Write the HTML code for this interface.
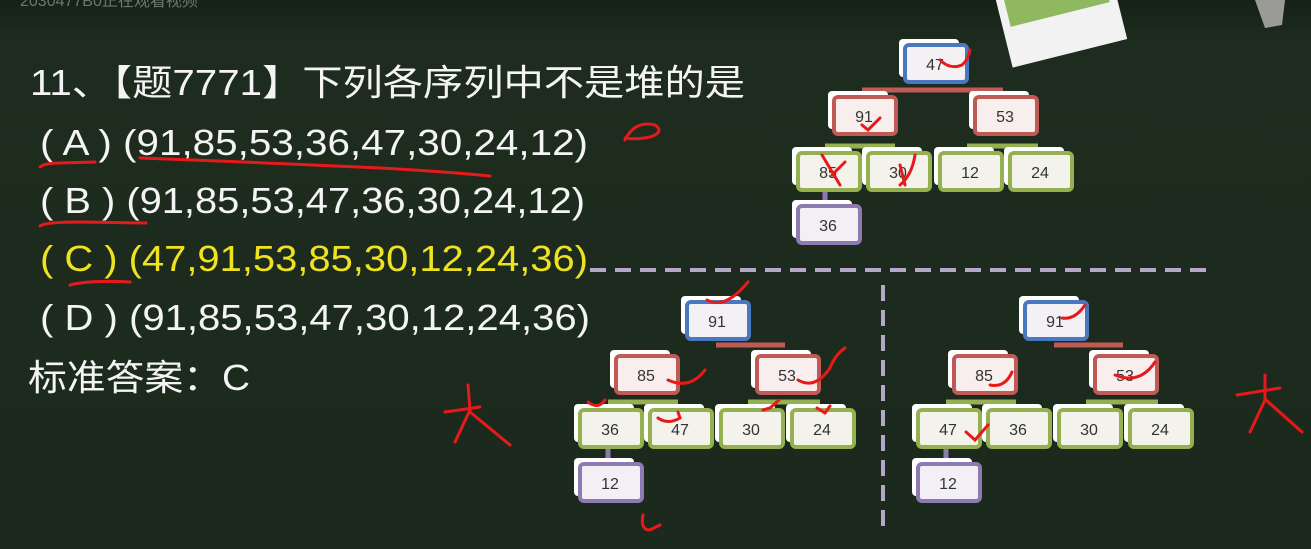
<!DOCTYPE html>
<html><head><meta charset="utf-8"><style>
html,body{margin:0;padding:0;background:#1e2c1f;}
svg{display:block}
text{font-family:"Liberation Sans","Noto Sans CJK SC",sans-serif;}
</style></head><body>
<svg width="1311" height="549" viewBox="0 0 1311 549" xmlns="http://www.w3.org/2000/svg">
<defs>
<linearGradient id="bg" x1="0" y1="0" x2="0" y2="1"><stop offset="0" stop-color="#152116"/><stop offset="0.08" stop-color="#1e2c1f"/><stop offset="1" stop-color="#1c2a1d"/></linearGradient>
</defs>
<rect width="1311" height="549" fill="url(#bg)"/>
<text x="20" y="6" font-size="16" fill="#6d776d">2030477B0正在观看视频</text>
<!-- polaroid -->
<g transform="rotate(-14 1060 30)">
<rect x="1005" y="-40" width="118" height="95" fill="#f2f2f2"/>
<rect x="1013" y="-40" width="102" height="55" fill="#8fb860"/>
</g>
<path d="M1255 0 L1285 0 L1282 25 L1265 28 Z" fill="#9a9a96"/>
<!-- text -->
<g font-size="36" fill="#f4f4f4">
<text x="30" y="95" textLength="715" lengthAdjust="spacingAndGlyphs">11、【题7771】下列各序列中不是堆的是</text>
<text x="40" y="155" textLength="548" lengthAdjust="spacingAndGlyphs">( A ) (91,85,53,36,47,30,24,12)</text>
<text x="40" y="213" textLength="545" lengthAdjust="spacingAndGlyphs">( B ) (91,85,53,47,36,30,24,12)</text>
<text x="40" y="271" textLength="548" lengthAdjust="spacingAndGlyphs" fill="#efe21e">( C ) (47,91,53,85,30,12,24,36)</text>
<text x="40" y="330" textLength="550" lengthAdjust="spacingAndGlyphs">( D ) (91,85,53,47,30,12,24,36)</text>
<text x="28" y="390" textLength="222" lengthAdjust="spacingAndGlyphs">标准答案：C</text>
</g>
<!-- dashed lines -->
<line x1="590" y1="270" x2="1212" y2="270" stroke="#b4a8c8" stroke-width="4" stroke-dasharray="16 9"/>
<line x1="883" y1="285" x2="883" y2="530" stroke="#b4a8c8" stroke-width="4" stroke-dasharray="16 9"/>

<g stroke-width="5" fill="none">
<path d="M862 90 H1003" stroke="#c05a55"/>
<path d="M825 146 H895 M967 146 H1038" stroke="#94b050"/>
<path d="M825 190 V205" stroke="#8c7ab0"/>
<path d="M716 345 H785" stroke="#c05a55"/>
<path d="M608 402 H678 M748 402 H820" stroke="#94b050"/>
<path d="M608 448 V460" stroke="#8c7ab0"/>
<path d="M1054 345 H1123" stroke="#c05a55"/>
<path d="M946 402 H1016 M1086 402 H1158" stroke="#94b050"/>
<path d="M946 448 V460" stroke="#8c7ab0"/>
</g>

<g text-anchor="middle" font-size="16" fill="#333">
<!-- Tree 1 -->
<rect x="899" y="39" width="60" height="38" rx="4" fill="#fff"/><rect x="905" y="45" width="62" height="37" rx="4" fill="#f4f1f4" stroke="#4a78c0" stroke-width="4"/><text x="935" y="70">47</text>
<rect x="828" y="91" width="60" height="38" rx="4" fill="#fff"/><rect x="834" y="97" width="62" height="37" rx="4" fill="#f8eeee" stroke="#c05a55" stroke-width="4"/><text x="864" y="122">91</text>
<rect x="969" y="91" width="60" height="38" rx="4" fill="#fff"/><rect x="975" y="97" width="62" height="37" rx="4" fill="#f8eeee" stroke="#c05a55" stroke-width="4"/><text x="1005" y="122">53</text>
<rect x="792" y="147" width="60" height="38" rx="4" fill="#fff"/><rect x="798" y="153" width="62" height="37" rx="4" fill="#f3f3ec" stroke="#94b050" stroke-width="4"/><text x="828" y="178">85</text>
<rect x="862" y="147" width="60" height="38" rx="4" fill="#fff"/><rect x="868" y="153" width="62" height="37" rx="4" fill="#f3f3ec" stroke="#94b050" stroke-width="4"/><text x="898" y="178">30</text>
<rect x="934" y="147" width="60" height="38" rx="4" fill="#fff"/><rect x="940" y="153" width="62" height="37" rx="4" fill="#f3f3ec" stroke="#94b050" stroke-width="4"/><text x="970" y="178">12</text>
<rect x="1004" y="147" width="60" height="38" rx="4" fill="#fff"/><rect x="1010" y="153" width="62" height="37" rx="4" fill="#f3f3ec" stroke="#94b050" stroke-width="4"/><text x="1040" y="178">24</text>
<rect x="792" y="200" width="60" height="38" rx="4" fill="#fff"/><rect x="798" y="206" width="62" height="37" rx="4" fill="#f3f0f5" stroke="#8c7ab0" stroke-width="4"/><text x="828" y="231">36</text>
<!-- Tree 2 -->
<rect x="681" y="296" width="60" height="38" rx="4" fill="#fff"/><rect x="687" y="302" width="62" height="37" rx="4" fill="#f4f1f4" stroke="#4a78c0" stroke-width="4"/><text x="717" y="327">91</text>
<rect x="610" y="350" width="60" height="38" rx="4" fill="#fff"/><rect x="616" y="356" width="62" height="37" rx="4" fill="#f8eeee" stroke="#c05a55" stroke-width="4"/><text x="646" y="381">85</text>
<rect x="751" y="350" width="60" height="38" rx="4" fill="#fff"/><rect x="757" y="356" width="62" height="37" rx="4" fill="#f8eeee" stroke="#c05a55" stroke-width="4"/><text x="787" y="381">53</text>
<rect x="574" y="404" width="60" height="38" rx="4" fill="#fff"/><rect x="580" y="410" width="62" height="37" rx="4" fill="#f3f3ec" stroke="#94b050" stroke-width="4"/><text x="610" y="435">36</text>
<rect x="644" y="404" width="60" height="38" rx="4" fill="#fff"/><rect x="650" y="410" width="62" height="37" rx="4" fill="#f3f3ec" stroke="#94b050" stroke-width="4"/><text x="680" y="435">47</text>
<rect x="715" y="404" width="60" height="38" rx="4" fill="#fff"/><rect x="721" y="410" width="62" height="37" rx="4" fill="#f3f3ec" stroke="#94b050" stroke-width="4"/><text x="751" y="435">30</text>
<rect x="786" y="404" width="60" height="38" rx="4" fill="#fff"/><rect x="792" y="410" width="62" height="37" rx="4" fill="#f3f3ec" stroke="#94b050" stroke-width="4"/><text x="822" y="435">24</text>
<rect x="574" y="458" width="60" height="38" rx="4" fill="#fff"/><rect x="580" y="464" width="62" height="37" rx="4" fill="#f3f0f5" stroke="#8c7ab0" stroke-width="4"/><text x="610" y="489">12</text>
<!-- Tree 3 -->
<rect x="1019" y="296" width="60" height="38" rx="4" fill="#fff"/><rect x="1025" y="302" width="62" height="37" rx="4" fill="#f4f1f4" stroke="#4a78c0" stroke-width="4"/><text x="1055" y="327">91</text>
<rect x="948" y="350" width="60" height="38" rx="4" fill="#fff"/><rect x="954" y="356" width="62" height="37" rx="4" fill="#f8eeee" stroke="#c05a55" stroke-width="4"/><text x="984" y="381">85</text>
<rect x="1089" y="350" width="60" height="38" rx="4" fill="#fff"/><rect x="1095" y="356" width="62" height="37" rx="4" fill="#f8eeee" stroke="#c05a55" stroke-width="4"/><text x="1125" y="381">53</text>
<rect x="912" y="404" width="60" height="38" rx="4" fill="#fff"/><rect x="918" y="410" width="62" height="37" rx="4" fill="#f3f3ec" stroke="#94b050" stroke-width="4"/><text x="948" y="435">47</text>
<rect x="982" y="404" width="60" height="38" rx="4" fill="#fff"/><rect x="988" y="410" width="62" height="37" rx="4" fill="#f3f3ec" stroke="#94b050" stroke-width="4"/><text x="1018" y="435">36</text>
<rect x="1053" y="404" width="60" height="38" rx="4" fill="#fff"/><rect x="1059" y="410" width="62" height="37" rx="4" fill="#f3f3ec" stroke="#94b050" stroke-width="4"/><text x="1089" y="435">30</text>
<rect x="1124" y="404" width="60" height="38" rx="4" fill="#fff"/><rect x="1130" y="410" width="62" height="37" rx="4" fill="#f3f3ec" stroke="#94b050" stroke-width="4"/><text x="1160" y="435">24</text>
<rect x="912" y="458" width="60" height="38" rx="4" fill="#fff"/><rect x="918" y="464" width="62" height="37" rx="4" fill="#f3f0f5" stroke="#8c7ab0" stroke-width="4"/><text x="948" y="489">12</text>
</g>

<!-- red annotations -->
<g stroke="#e8191b" stroke-width="3" fill="none" stroke-linecap="round">
<path d="M40 167 Q45 163 60 163 L95 162"/>
<path d="M140 158 Q250 162 380 168 Q450 172 490 176"/>
<path d="M40 226 Q45 222 80 222 L146 223"/>
<path d="M70 285 Q90 280 130 282"/>
<path d="M625 140 Q635 120 655 125 Q665 132 650 137 Q635 140 625 138"/>
<path d="M940 60 Q950 70 962 65 Q968 60 970 50"/>
<path d="M862 125 L868 130 L880 118"/>
<path d="M822 155 L840 185 M845 162 L832 175"/>
<path d="M900 165 L905 185 M915 155 Q912 175 900 185"/>
<path d="M707 300 Q725 310 748 282"/>
<path d="M668 380 Q690 390 705 370"/>
<path d="M798 380 Q815 390 830 368 Q835 355 845 348"/>
<path d="M588 402 Q598 410 605 400"/>
<path d="M658 418 Q668 425 680 418 L678 412"/>
<path d="M763 410 L770 408 L779 400"/>
<path d="M817 408 L825 413 L830 406"/>
<path d="M643 515 Q640 530 650 530 L660 525"/>
<path d="M1062 318 Q1075 320 1085 305"/>
<path d="M990 385 Q1005 388 1012 372"/>
<path d="M1115 375 Q1140 385 1155 362"/>
<path d="M966 432 L975 440 L988 425"/>
<path d="M445 412 L480 407 M468 385 L470 410 L455 442 M470 412 L510 445"/>
<path d="M1237 395 L1280 388 M1265 375 L1265 400 L1250 432 M1266 400 L1302 432"/>
</g>
</svg>
</body></html>
